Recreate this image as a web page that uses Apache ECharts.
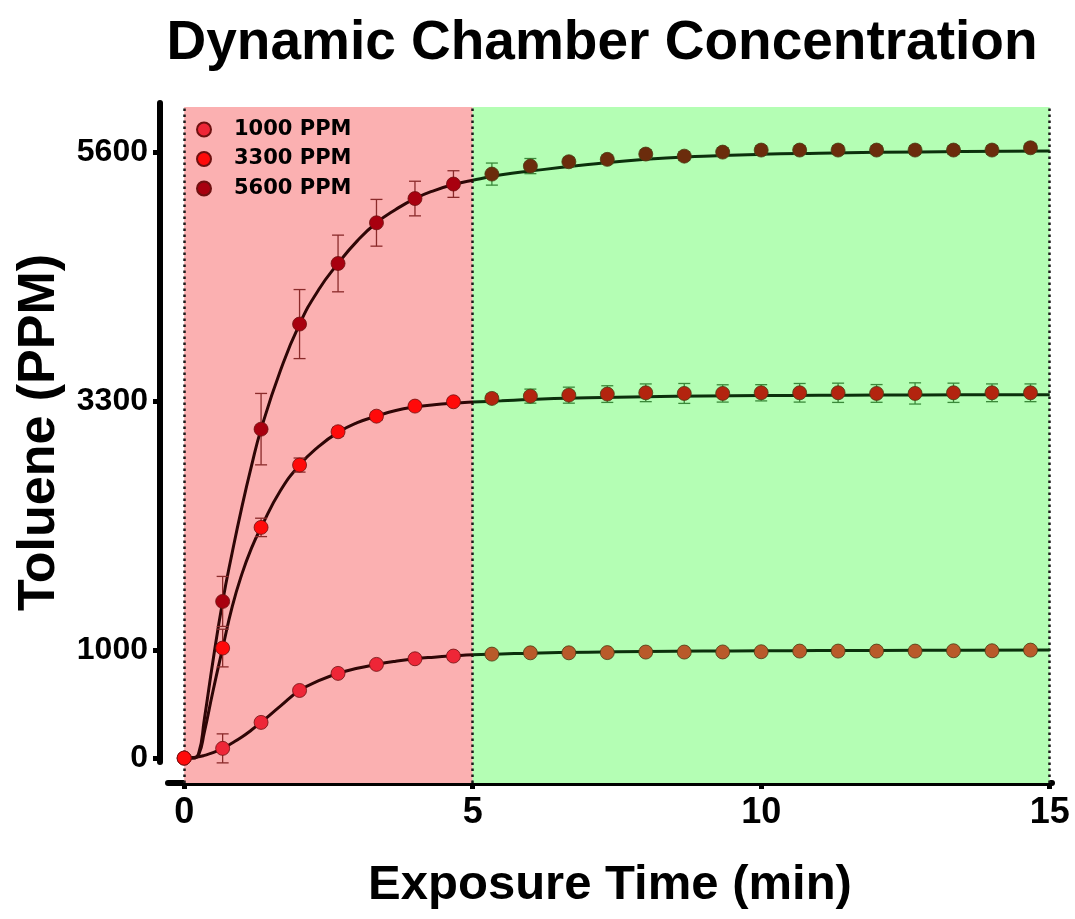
<!DOCTYPE html>
<html>
<head>
<meta charset="utf-8">
<script src="https://cdn.jsdelivr.net/npm/echarts@6/dist/echarts.min.js"></script>
<style>html,body{margin:0;padding:0;background:#fff}#c{width:1075px;height:919px}</style>
</head>
<body>
<div id="c"></div>
<script>
// ---- data ----
const times = [0, 0.667, 1.333, 2, 2.667, 3.333, 4, 4.667, 5.333, 6, 6.667, 7.333, 8, 8.667, 9.333, 10, 10.667, 11.333, 12, 12.667, 13.333, 14, 14.667];
const ppm1000 = [0, 90, 330, 625, 783, 866, 918, 943, 961, 973, 973, 975, 980, 980, 981, 983, 989, 989, 989, 989, 992, 992, 998];
const err1000 = [0, 134, 25, 20, 15, 15, 15, 15, 15, 15, 15, 15, 15, 15, 15, 15, 15, 15, 15, 15, 15, 15, 15];
const ppm3300 = [0, 1017, 2132, 2708, 3016, 3160, 3253, 3293, 3324, 3345, 3354, 3364, 3376, 3370, 3370, 3376, 3376, 3376, 3370, 3370, 3376, 3376, 3376];
const err3300 = [0, 174, 85, 65, 40, 35, 30, 30, 40, 65, 74, 77, 82, 92, 80, 75, 86, 89, 82, 98, 89, 82, 82];
const ppm5600 = [0, 1448, 3040, 4011, 4571, 4947, 5171, 5305, 5397, 5471, 5511, 5533, 5582, 5563, 5600, 5619, 5619, 5619, 5619, 5619, 5619, 5619, 5640];
const err5600 = [0, 231, 330, 319, 262, 216, 160, 123, 102, 70, 40, 40, 40, 40, 40, 40, 40, 40, 40, 40, 40, 40, 40];

// fitted curves (read at sample times)
const curveT  = [0, 0.15, 0.25, 0.35, 0.5, 0.667, 0.833, 1, 1.167, 1.333, 1.667, 2, 2.333, 2.667, 3, 3.333, 3.667, 4, 4.333, 4.667, 5, 5.5, 6, 7, 8, 9, 10, 11, 12, 13.5, 15];
const fit1000 = [0, 5, 12, 25, 50, 90, 140, 195, 260, 330, 480, 625, 715, 783, 830, 866, 895, 918, 933, 945, 955, 962, 970, 979, 985, 989, 992, 994, 995, 997, 998];
const fit3300 = [0, 0, 30, 240, 620, 1017, 1400, 1700, 1940, 2132, 2470, 2708, 2880, 3010, 3100, 3160, 3212, 3245, 3266, 3280, 3290, 3302, 3315, 3330, 3340, 3346, 3350, 3353, 3355, 3357, 3358];
const fit5600 = [0, 0, 40, 360, 900, 1448, 1900, 2320, 2700, 3040, 3580, 4011, 4330, 4571, 4780, 4947, 5070, 5171, 5245, 5300, 5340, 5390, 5425, 5485, 5535, 5562, 5580, 5590, 5598, 5605, 5610];

const seriesNames = ['1000 PPM', '3300 PPM', '5600 PPM'];
const xTicks = [0, 5, 10, 15];
const yTicks = [0, 1000, 3300, 5600];
const phaseSplit = 5;   // minutes: end of the red phase
const xEnd = 15;

// ---- styles ----
const redFill = ['#ee2637', '#ff0a0a', '#a8000f'];
const greenFill = ['#b95a2a', '#b3240f', '#6b2c0c'];
const redBorder = '#6e1010';
const greenBorder = '#4a3a10';
const errRed = '#8a2a2a';
const errGreen = '#3a8a3a';
const lineRed = '#2e0606';
const lineGreen = '#0c300c';

function pts(vals, k) {
  return times.map((t, i) => t > phaseSplit
    ? { value: [t, vals[i]], itemStyle: { color: greenFill[k], borderColor: greenBorder } }
    : { value: [t, vals[i]] });
}
function errData(vals, errs) {
  return times.map((t, i) => [t, vals[i], errs[i]]);
}
function curve(vals) { return curveT.map((t, i) => [t, vals[i]]); }

function errRender(params, api) {
  const t = api.value(0), v = api.value(1), e = api.value(2);
  if (!e) return null;
  const a = api.coord([t, v + e]);
  const b = api.coord([t, v - e]);
  const hw = 6;
  const style = { stroke: t > phaseSplit ? errGreen : errRed, lineWidth: 1.3, fill: null };
  return {
    type: 'group',
    children: [
      { type: 'line', shape: { x1: a[0], y1: a[1], x2: b[0], y2: b[1] }, style },
      { type: 'line', shape: { x1: a[0] - hw, y1: a[1], x2: a[0] + hw, y2: a[1] }, style },
      { type: 'line', shape: { x1: b[0] - hw, y1: b[1], x2: b[0] + hw, y2: b[1] }, style }
    ]
  };
}

const vals = [ppm1000, ppm3300, ppm5600];
const errs = [err1000, err3300, err5600];
const fits = [fit1000, fit3300, fit5600];

const series = [];
// background phases + dotted dividers
series.push({
  type: 'line', data: [], xAxisIndex: 0, yAxisIndex: 0, silent: true, z: 1,
  markArea: {
    silent: true, z: 1,
    data: [
      [{ xAxis: 0, itemStyle: { color: '#fbb0b1' } }, { xAxis: phaseSplit }],
      [{ xAxis: phaseSplit, itemStyle: { color: '#b4feb4' } }, { xAxis: xEnd }]
    ]
  },
  markLine: {
    silent: true, z: 2, symbol: ['none', 'none'], label: { show: false },
    lineStyle: { color: '#1a1a1a', type: [2.5, 3.5], width: 2.5 },
    data: [{ xAxis: 0 }, { xAxis: phaseSplit }, { xAxis: xEnd }]
  }
});
// fitted curves
fits.forEach((f) => {
  series.push({
    type: 'line', data: curve(f), showSymbol: false, symbol: 'none',
    smooth: 0.5, z: 3, silent: true,
    lineStyle: { width: 3 }
  });
});
// error bars
[0, 2, 1].forEach((k) => {
  series.push({
    type: 'custom', coordinateSystem: 'cartesian2d', xAxisIndex: 0, yAxisIndex: 0,
    renderItem: errRender, data: errData(vals[k], errs[k]),
    encode: { x: 0, y: 1 }, z: 4, silent: true
  });
});
// points
[0, 2, 1].forEach((k) => {
  series.push({
    type: 'scatter', name: seriesNames[k], data: pts(vals[k], k),
    symbol: 'circle', symbolSize: 14, z: 5,
    itemStyle: { color: redFill[k], borderColor: redBorder, borderWidth: 0.8, opacity: 1 }
  });
});

const option = {
  animation: false,
  backgroundColor: '#ffffff',
  title: {
    text: 'Dynamic Chamber Concentration',
    left: 597, top: 11, textAlign: 'center',
    textStyle: { fontFamily: 'Liberation Sans', fontWeight: 'bold', fontSize: 55, color: '#000' }
  },
  legend: {
    data: seriesNames,
    orient: 'vertical', left: 191, top: 114, itemGap: 8.5,
    itemWidth: 14, itemHeight: 14, icon: 'circle',
    textStyle: { fontFamily: 'DejaVu Sans', fontWeight: 'bold', fontSize: 21, color: '#000', padding: [0, 0, 0, 18] }
  },
  visualMap: {
    show: false, type: 'piecewise', dimension: 0, seriesIndex: [1, 2, 3],
    pieces: [
      { gte: -1, lte: phaseSplit, color: lineRed },
      { gt: phaseSplit, lte: 16, color: lineGreen }
    ],
    outOfRange: { color: lineGreen }
  },
  grid: [
    { left: 168, right: 23, top: 107, bottom: 136 },
    { left: 160, width: 1, top: 103, bottom: 157 }
  ],
  xAxis: [
    {
      type: 'value', gridIndex: 0, min: -0.28, max: 15.04,
      name: 'Exposure Time (min)', nameLocation: 'middle', nameGap: 78,
      nameTextStyle: { fontFamily: 'Liberation Sans', fontWeight: 'bold', fontSize: 49, color: '#000' },
      axisLine: { show: true, onZero: false, lineStyle: { color: '#000', width: 6 } },
      axisTick: { show: true, customValues: xTicks, length: 6, lineStyle: { color: '#000', width: 5 } },
      axisLabel: {
        customValues: xTicks, margin: 12, color: '#000',
        formatter: (v) => String(v),
        fontFamily: 'Liberation Sans Narrow, Liberation Sans', fontWeight: 'bold', fontSize: 36
      },
      splitLine: { show: false }
    },
    { type: 'value', gridIndex: 1, min: 0, max: 1, show: false }
  ],
  yAxis: [
    { type: 'value', gridIndex: 0, min: -230, max: 6017, show: false, splitLine: { show: false } },
    {
      type: 'value', gridIndex: 1, min: -37, max: 6053, position: 'left',
      name: 'Toluene (PPM)', nameLocation: 'middle', nameGap: 94, nameRotate: 90,
      nameTextStyle: { fontFamily: 'Liberation Sans', fontWeight: 'bold', fontSize: 52, color: '#000' },
      axisLine: { show: true, onZero: false, lineStyle: { color: '#000', width: 6 } },
      axisTick: { show: true, customValues: yTicks, length: 7, lineStyle: { color: '#000', width: 5 } },
      axisLabel: {
        customValues: yTicks, margin: 12, color: '#000',
        formatter: (v) => String(v),
        fontFamily: 'Liberation Sans', fontWeight: 'bold', fontSize: 32
      },
      splitLine: { show: false }
    }
  ],
  series: series
};

const chart = echarts.init(document.getElementById('c'), null, { renderer: 'canvas' });
chart.setOption(option);
</script>
</body>
</html>
